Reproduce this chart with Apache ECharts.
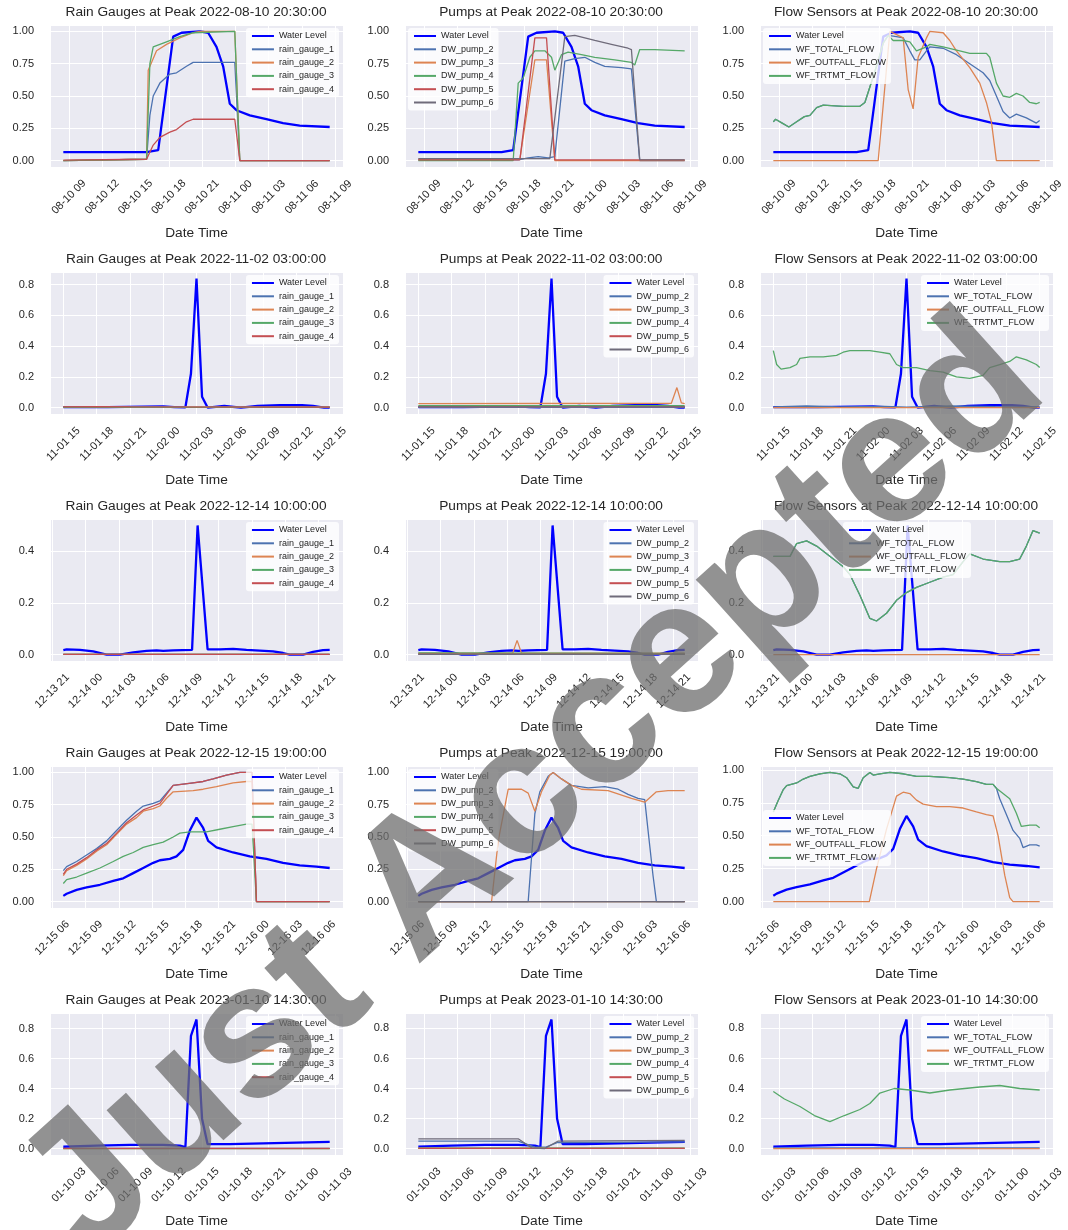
<!DOCTYPE html>
<html>
<head>
<meta charset="utf-8">
<script src="https://cdn.jsdelivr.net/npm/echarts@6/dist/echarts.min.js"></script>
<style>
html, body { margin: 0; background: #fff; }
#chart { width: 1068px; height: 1230px; }
</style>
</head>
<body>
<div id="chart"></div>
<script>
// peak time of each row (the x window is peak -12h .. +12h)
const peakTimes = ['2022-08-10 20:30:00', '2022-11-02 03:00:00', '2022-12-14 10:00:00', '2022-12-15 19:00:00', '2023-01-10 14:30:00'];

const rainNames = ['rain_gauge_1', 'rain_gauge_2', 'rain_gauge_3', 'rain_gauge_4'];
const pumpNames = ['DW_pump_2', 'DW_pump_3', 'DW_pump_4', 'DW_pump_5', 'DW_pump_6'];
const flowNames = ['WF_TOTAL_FLOW', 'WF_OUTFALL_FLOW', 'WF_TRTMT_FLOW'];

// y tick step and decimals per row
const yStep = [0.25, 0.2, 0.2, 0.25, 0.2];
const yDigits = [2, 1, 1, 2, 1];

// every point is [hours from peak, normalised value]
// ---- row 1 : 2022-08-10 20:30
const level1 = [[-12,0.065],[-4.5,0.065],[-3.45,0.08],[-2.1,0.96],[-1.35,0.99],[0.3,1.0],[1.05,0.99],[1.8,0.88],[2.4,0.73],[3.0,0.44],[3.6,0.39],[4.8,0.35],[6.3,0.32],[7.8,0.29],[9.3,0.27],[12,0.26]];
const rain1 = [
  [[-12,0],[-4.5,0.01],[-4.2,0.35],[-3.9,0.5],[-3.3,0.6],[-2.4,0.67],[-1.8,0.68],[-0.9,0.73],[-0.3,0.76],[3.45,0.76],[3.9,0],[12,0]],
  [[-12,0],[-4.5,0.01],[-4.35,0.7],[-3.6,0.85],[-2.7,0.9],[-1.5,0.95],[-0.3,0.99],[0.3,1.0],[3.45,1.0],[3.9,0],[12,0]],
  [[-12,0],[-4.5,0.01],[-4.2,0.75],[-3.9,0.88],[-2.7,0.92],[-1.5,0.96],[-0.3,0.99],[3.45,1.0],[3.9,0],[12,0]],
  [[-12,0.003],[-4.5,0.01],[-3.9,0.12],[-3.3,0.18],[-2.4,0.22],[-1.8,0.24],[-0.9,0.3],[-0.3,0.32],[3.45,0.32],[3.9,0],[12,0]]
];
const pump1 = [
  [[-12,0.005],[-3,0.005],[-2.1,0.02],[-1.2,0.03],[-0.3,0.02],[0.3,0.03],[1.2,0.77],[2.1,0.79],[3.0,0.8],[3.9,0.76],[4.8,0.73],[6.3,0.72],[7.2,0.71],[7.95,0],[12,0]],
  [[-12,0.01],[-2.85,0.01],[-1.5,0.78],[-0.45,0.78],[0.3,0],[12,0]],
  [[-12,0],[-3.45,0],[-3.0,0.6],[-2.55,0.64],[-1.95,0.8],[-1.5,0.85],[-0.6,0.85],[0,0.8],[0.3,0.7],[0.9,0.82],[1.5,0.84],[2.7,0.82],[3.9,0.8],[5.7,0.78],[7.2,0.76],[7.5,0.74],[7.95,0.86],[9.3,0.86],[12,0.85]],
  [[-12,0.005],[-2.85,0.005],[-1.5,0.95],[-0.45,0.95],[0.3,0.005],[12,0.005]],
  [[-12,0.015],[-0.15,0.015],[1.2,0.96],[2.1,0.97],[3.9,0.93],[5.4,0.9],[6.9,0.87],[7.2,0.86],[7.95,0.005],[12,0.005]]
];
const flow1 = [
  [[-12,0.3],[-11.8,0.32],[-11.2,0.29],[-10.6,0.26],[-9.9,0.3],[-9.2,0.34],[-8.7,0.35],[-8.1,0.41],[-7.5,0.43],[-5.7,0.42],[-4.2,0.42],[-3.75,0.45],[-3.3,0.57],[-2.7,0.73],[-2.1,0.91],[-1.65,0.97],[-0.9,0.96],[-0.3,0.95],[0.3,0.85],[0.75,0.78],[1.2,0.78],[1.8,0.85],[2.1,0.88],[3.3,0.87],[4.5,0.82],[5.7,0.75],[6.9,0.68],[7.5,0.62],[8.1,0.5],[8.7,0.38],[9.3,0.33],[9.9,0.36],[10.8,0.33],[11.7,0.29],[12,0.31]],
  [[-12,0],[-2.55,0],[-1.5,1.0],[-0.75,0.97],[-0.3,0.95],[0.15,0.55],[0.6,0.4],[1.05,0.8],[1.8,0.95],[2.1,1.0],[3.3,0.99],[3.9,0.93],[4.5,0.85],[5.7,0.72],[6.6,0.6],[7.2,0.45],[7.65,0.3],[8.1,0],[12,0]],
  [[-12,0.3],[-11.8,0.32],[-11.2,0.29],[-10.6,0.26],[-9.9,0.3],[-9.2,0.34],[-8.7,0.35],[-8.1,0.41],[-7.5,0.43],[-5.7,0.42],[-4.2,0.42],[-3.75,0.45],[-3.3,0.57],[-2.7,0.73],[-2.1,0.91],[-1.65,0.97],[-1.2,0.93],[-0.3,0.93],[0.3,0.92],[0.9,0.85],[1.8,0.88],[2.1,0.9],[3.3,0.88],[4.8,0.85],[5.7,0.83],[7.2,0.83],[7.5,0.8],[8.1,0.6],[8.7,0.5],[9.3,0.49],[9.9,0.52],[10.5,0.5],[11.1,0.45],[11.7,0.44],[12,0.45]]
];

// ---- row 2 : 2022-11-02 03:00
const level2 = [[-12,0.003],[-8,0.003],[-3,0.008],[-2,0.003],[-1,0.002],[-0.5,0.22],[0,0.84],[0.5,0.07],[1,0],[2.5,0.01],[4,0],[5.5,0.01],[7.5,0.015],[9.5,0.015],[10.5,0.01],[11.5,0],[12,0]];
const rain2 = [
  [[-12,0.003],[12,0.003]],
  [[-12,0.002],[12,0.002]],
  [[-12,0.001],[12,0.001]],
  [[-12,0.004],[-9,0.006],[-6,0.004],[12,0.003]]
];
const pump2 = [
  [[-12,0.002],[12,0.002]],
  [[-12,0.025],[10.8,0.028],[11.3,0.13],[11.7,0.03],[12,0.025]],
  [[-12,0.012],[12,0.012]],
  [[-12,0.006],[12,0.006]],
  [[-12,0.004],[12,0.004]]
];
const flow2 = [
  [[-12,0.005],[-9,0.01],[-6,0.005],[-2,0.008],[0,0.003],[4,0.01],[8,0.006],[12,0.004]],
  [[-12,0],[12,0]],
  [[-12,0.37],[-11.7,0.28],[-11.3,0.25],[-10.5,0.26],[-9.9,0.28],[-9.6,0.32],[-8.7,0.33],[-7.5,0.33],[-6.3,0.34],[-5.7,0.36],[-5.1,0.37],[-3.3,0.37],[-2.4,0.36],[-1.5,0.35],[-0.9,0.28],[-0.3,0.26],[0.9,0.26],[2.1,0.24],[3.3,0.23],[4.5,0.2],[5.7,0.19],[6.9,0.21],[7.5,0.26],[8.4,0.28],[9.3,0.3],[9.9,0.33],[10.8,0.31],[11.7,0.28],[12,0.26]]
];

// ---- row 3 : 2022-12-14 10:00
const level3 = [[-12,0.017],[-11.7,0.02],[-10.5,0.018],[-9.3,0.012],[-8.1,0],[-6.9,0],[-5.7,0.008],[-4.5,0.014],[-3.6,0.016],[-3.0,0.014],[-2.1,0.016],[-0.4,0.018],[0.1,0.5],[1.0,0.02],[2.1,0.02],[3.3,0.022],[4.5,0.018],[5.7,0.015],[6.9,0.012],[7.8,0.006],[8.4,0],[9.6,0],[10.5,0.01],[11.4,0.017],[12,0.018]];
const rain3 = [
  [[-12,0.001],[12,0.001]],
  [[-12,0.001],[12,0.001]],
  [[-12,0.001],[12,0.001]],
  [[-12,0.001],[12,0.001]]
];
const pump3 = [
  [[-12,0.002],[12,0.002]],
  [[-12,0.005],[-3.5,0.005],[-3.1,0.055],[-2.7,0.005],[12,0.005]],
  [[-12,0.006],[12,0.004]],
  [[-12,0.002],[12,0.002]],
  [[-12,0.001],[12,0.001]]
];
const flow3 = [
  [[-12,0.38],[-10.5,0.38],[-9.9,0.43],[-9.0,0.44],[-8.1,0.42],[-7.2,0.39],[-6.3,0.36],[-5.7,0.34],[-5.1,0.31],[-4.2,0.23],[-3.3,0.14],[-2.7,0.13],[-1.8,0.16],[-0.9,0.21],[0,0.24],[0.9,0.26],[2.1,0.28],[3.3,0.3],[4.2,0.31],[5.1,0.36],[5.7,0.39],[6.9,0.37],[8.4,0.36],[9.3,0.36],[10.2,0.37],[10.8,0.42],[11.4,0.48],[12,0.47]],
  [[-12,0],[12,0]],
  [[-12,0.38],[-10.5,0.38],[-9.9,0.43],[-9.0,0.44],[-8.1,0.42],[-7.2,0.39],[-6.3,0.36],[-5.7,0.34],[-5.1,0.31],[-4.2,0.23],[-3.3,0.14],[-2.7,0.13],[-1.8,0.16],[-0.9,0.21],[0,0.24],[0.9,0.26],[2.1,0.28],[3.3,0.3],[4.2,0.31],[5.1,0.36],[5.7,0.39],[6.9,0.37],[8.4,0.36],[9.3,0.36],[10.2,0.37],[10.8,0.42],[11.4,0.48],[12,0.47]]
];

// ---- row 4 : 2022-12-15 19:00
const level4 = [[-12,0.044],[-11.7,0.06],[-10.8,0.09],[-9.9,0.11],[-8.7,0.13],[-7.5,0.16],[-6.6,0.18],[-5.7,0.22],[-4.8,0.26],[-3.9,0.3],[-3.3,0.32],[-2.4,0.33],[-1.8,0.35],[-1.2,0.4],[-0.6,0.55],[0,0.65],[0.6,0.57],[1.05,0.47],[1.8,0.42],[3.3,0.38],[4.8,0.35],[6.3,0.33],[7.8,0.3],[9.3,0.28],[10.8,0.27],[12,0.26]];
const rain4 = [
  [[-12,0.24],[-11.7,0.27],[-10.8,0.31],[-9.9,0.36],[-9.0,0.41],[-8.1,0.47],[-7.2,0.55],[-6.3,0.63],[-5.4,0.7],[-4.8,0.74],[-3.9,0.76],[-3.3,0.78],[-2.7,0.84],[-2.1,0.9],[-1.2,0.91],[-0.3,0.92],[0.6,0.93],[1.5,0.95],[2.7,0.98],[3.9,1.0],[5.0,1.0],[5.4,0],[12,0]],
  [[-12,0.2],[-11.7,0.24],[-10.8,0.28],[-9.9,0.33],[-9.0,0.39],[-8.1,0.44],[-7.2,0.52],[-6.3,0.6],[-5.4,0.65],[-4.8,0.7],[-3.9,0.72],[-3.3,0.74],[-2.7,0.8],[-2.1,0.85],[-0.3,0.86],[0.6,0.87],[1.8,0.89],[3.3,0.92],[4.5,0.93],[5.0,0.93],[5.4,0],[12,0]],
  [[-12,0.14],[-11.7,0.17],[-10.8,0.19],[-9.9,0.22],[-8.7,0.26],[-7.5,0.31],[-6.6,0.35],[-5.7,0.38],[-4.8,0.42],[-3.9,0.44],[-3.0,0.46],[-2.1,0.5],[-1.5,0.53],[-0.6,0.54],[0.9,0.54],[2.1,0.56],[3.3,0.58],[4.5,0.6],[5.0,0.6],[5.4,0],[12,0]],
  [[-12,0.21],[-11.7,0.25],[-10.8,0.29],[-9.9,0.34],[-9.0,0.4],[-8.1,0.45],[-7.2,0.53],[-6.3,0.61],[-5.4,0.67],[-4.8,0.71],[-3.9,0.74],[-3.3,0.76],[-2.7,0.83],[-2.1,0.9],[-1.2,0.91],[-0.3,0.92],[0.6,0.93],[1.5,0.95],[2.7,0.98],[3.9,1.0],[5.0,1.0],[5.4,0],[12,0]]
];
const pump4 = [
  [[-12,0],[-2.1,0],[-1.5,0.68],[-1.05,0.85],[-0.3,0.97],[0.15,1.0],[0.9,0.95],[1.8,0.9],[3.3,0.88],[4.8,0.89],[6.0,0.87],[6.9,0.83],[7.8,0.8],[8.4,0.79],[8.7,0.55],[9.15,0.2],[9.45,0],[12,0]],
  [[-12,0],[-5.4,0],[-4.8,0.47],[-3.9,0.87],[-2.7,0.87],[-2.1,0.84],[-1.5,0.7],[-0.9,0.85],[-0.15,0.98],[0.15,1.0],[0.9,0.95],[1.8,0.9],[2.7,0.87],[5.1,0.86],[7.2,0.8],[8.4,0.77],[9.45,0.85],[10.5,0.86],[12,0.86]],
  [[-12,0],[12,0]],
  [[-12,0],[12,0]],
  [[-12,0],[12,0]]
];
const flow4 = [
  [[-12,0.68],[-11.6,0.76],[-11.1,0.85],[-10.8,0.88],[-9.9,0.9],[-9.3,0.93],[-8.7,0.95],[-7.8,0.97],[-6.9,0.98],[-6.0,0.97],[-5.4,0.94],[-4.8,0.87],[-4.35,0.86],[-3.9,0.94],[-3.3,0.98],[-3.0,0.96],[-2.4,0.97],[-1.5,0.98],[-0.3,0.97],[0.9,0.95],[2.1,0.95],[3.9,0.94],[5.1,0.93],[6.3,0.91],[7.2,0.89],[7.8,0.89],[8.1,0.86],[8.4,0.78],[9.0,0.66],[9.6,0.54],[10.2,0.48],[10.5,0.41],[11.1,0.43],[11.7,0.43],[12,0.42]],
  [[-12,0],[-3.35,0],[-2.7,0.25],[-1.8,0.55],[-0.9,0.8],[-0.3,0.83],[0.3,0.82],[0.9,0.77],[1.5,0.74],[2.7,0.72],[3.9,0.72],[5.1,0.71],[6.3,0.68],[7.2,0.66],[7.8,0.65],[8.25,0.5],[8.85,0.2],[9.3,0.03],[9.6,0],[12,0]],
  [[-12,0.68],[-11.6,0.76],[-11.1,0.85],[-10.8,0.88],[-9.9,0.9],[-9.3,0.93],[-8.7,0.95],[-7.8,0.97],[-6.9,0.98],[-6.0,0.97],[-5.4,0.94],[-4.8,0.87],[-4.35,0.86],[-3.9,0.94],[-3.3,0.98],[-3.0,0.96],[-2.4,0.97],[-1.5,0.98],[-0.3,0.97],[0.9,0.95],[2.1,0.95],[3.9,0.94],[5.1,0.93],[6.3,0.91],[7.2,0.89],[7.8,0.89],[8.1,0.86],[8.7,0.82],[9.3,0.78],[9.9,0.67],[10.35,0.57],[11.1,0.58],[11.7,0.58],[12,0.56]]
];

// ---- row 5 : 2023-01-10 14:30
const level5 = [[-12,0.013],[-9,0.02],[-6,0.025],[-3,0.025],[-1.5,0.02],[-1.0,0.01],[-0.5,0.75],[0,0.86],[0.5,0.2],[1.0,0.03],[3,0.03],[6,0.035],[9,0.04],[12,0.045]];
const rain5 = [
  [[-12,0.002],[12,0.002]],
  [[-12,0.001],[12,0.001]],
  [[-12,0.001],[12,0.001]],
  [[-12,0.002],[12,0.002]]
];
const pump5 = [
  [[-12,0.05],[-3,0.05],[-1.5,0.01],[-0.5,0.01],[0.5,0.04],[12,0.045]],
  [[-12,0.002],[12,0.002]],
  [[-12,0.003],[12,0.003]],
  [[-12,0.001],[12,0.001]],
  [[-12,0.065],[-3,0.065],[-1.8,0.005],[-0.6,0],[0.6,0.05],[12,0.055]]
];
const flow5 = [
  [[-12,0.005],[12,0.005]],
  [[-12,0],[12,0]],
  [[-12,0.38],[-11,0.33],[-9.6,0.28],[-8.3,0.22],[-6.9,0.18],[-5.6,0.22],[-4.2,0.26],[-3.3,0.3],[-2.4,0.37],[-1.1,0.4],[0.3,0.39],[2.1,0.37],[3.9,0.39],[6.6,0.41],[8.4,0.42],[10.2,0.4],[12,0.39]]
];

const levels = [level1, level2, level3, level4, level5];
const rainData = [rain1, rain2, rain3, rain4, rain5];
const pumpData = [pump1, pump2, pump3, pump4, pump5];
const flowData = [flow1, flow2, flow3, flow4, flow5];

// ---------------------------------------------------------------
const HOUR = 3600000;
const FONT = '"Liberation Sans", Arial, sans-serif';
const TXT = '#262626';
const colLeft = [50, 405, 760];
const plotW = 293, plotH = 142, rowPitch = 247, firstTop = 25;

const kinds = [
  { title: 'Rain Gauges', names: rainNames, data: rainData, colors: ['#4c72b0', '#dd8452', '#55a868', '#c44e52'] },
  { title: 'Pumps', names: pumpNames, data: pumpData, colors: ['#4c72b0', '#dd8452', '#55a868', '#c44e52', '#6f6b7a'] },
  { title: 'Flow Sensors', names: flowNames, data: flowData, colors: ['#4c72b0', '#dd8452', '#55a868'] }
];

// legend placement per panel: 'r' = top right corner, 'l' = top left, or [dx, dy] from the plot's top-left
const legendPlace = [
  ['r', 'l', 'l'],
  ['r', 'r', 'r'],
  ['r', 'r', [83, 3]],
  ['r', 'l', [3, 44]],
  ['r', 'r', 'r']
];

function toMs(s) {
  const m = s.match(/(\d+)-(\d+)-(\d+) (\d+):(\d+):(\d+)/);
  return Date.UTC(+m[1], +m[2] - 1, +m[3], +m[4], +m[5], +m[6]);
}
const pad = n => (n < 10 ? '0' : '') + n;
const padRange = v => (v.max - v.min) * 0.05;

const option = {
  animation: false,
  backgroundColor: '#ffffff',
  textStyle: { fontFamily: FONT },
  grid: [], xAxis: [], yAxis: [], legend: [], series: [], graphic: []
};

peakTimes.forEach((peak, r) => {
  const peakMs = toMs(peak);
  const step = yStep[r], digits = yDigits[r];
  kinds.forEach((kind, c) => {
    const idx = r * 3 + c;
    const left = colLeft[c], top = firstTop + rowPitch * r;

    option.grid.push({
      left: left, top: top, width: plotW, height: plotH,
      show: true, backgroundColor: '#eaeaf2', borderWidth: 0
    });
    option.xAxis.push({
      type: 'value', gridIndex: idx,
      min: v => v.min - padRange(v), max: v => v.max + padRange(v),
      minInterval: 3 * HOUR, maxInterval: 3 * HOUR,
      axisLine: { show: false }, axisTick: { show: false },
      splitLine: { show: true, lineStyle: { color: '#ffffff', width: 1 } },
      axisLabel: {
        rotate: 45, interval: 0, hideOverlap: false, margin: 30,
        align: 'center', verticalAlign: 'middle',
        fontSize: 11, color: TXT,
        formatter: v => {
          if (v % (3 * HOUR) !== 0) return '';
          const d = new Date(v);
          return pad(d.getUTCMonth() + 1) + '-' + pad(d.getUTCDate()) + ' ' + pad(d.getUTCHours());
        }
      },
      name: 'Date Time', nameLocation: 'middle', nameGap: 59,
      nameTextStyle: { fontSize: 13.7, color: TXT }
    });
    option.yAxis.push({
      type: 'value', gridIndex: idx,
      min: v => v.min - padRange(v), max: v => v.max + padRange(v),
      minInterval: step, maxInterval: step,
      axisLine: { show: false }, axisTick: { show: false },
      splitLine: { show: true, lineStyle: { color: '#ffffff', width: 1 } },
      axisLabel: {
        fontSize: 11, color: TXT, margin: 16,
        formatter: v => Math.abs(v / step - Math.round(v / step)) > 1e-6 ? '' : v.toFixed(digits)
      }
    });

    const toXY = pts => pts.map(p => [peakMs + p[0] * HOUR, p[1]]);
    option.series.push({
      type: 'line', name: 'Water Level', xAxisIndex: idx, yAxisIndex: idx,
      data: toXY(levels[r]), symbol: 'none', z: 2,
      lineStyle: { color: '#0000ff', width: 2.3 }, itemStyle: { color: '#0000ff' }
    });
    kind.data[r].forEach((pts, k) => {
      option.series.push({
        type: 'line', name: kind.names[k], xAxisIndex: idx, yAxisIndex: idx,
        data: toXY(pts), symbol: 'none', z: 3,
        lineStyle: { color: kind.colors[k], width: 1.3 }, itemStyle: { color: kind.colors[k] }
      });
    });

    const place = legendPlace[r][c];
    const leg = {
      orient: 'vertical', selectedMode: false,
      data: ['Water Level'].concat(kind.names),
      itemWidth: 22, itemHeight: 10, itemGap: 3.3,
      // hide the marker drawn in the middle of line icons, keep the line
      itemStyle: { color: 'rgba(0,0,0,0)', borderColor: 'rgba(0,0,0,0)', borderWidth: 0 },
      textStyle: { fontSize: 9, color: TXT, lineHeight: 10 },
      backgroundColor: 'rgba(255,255,255,0.8)', borderRadius: 3, padding: [3, 5, 3, 5],
      top: top + 3
    };
    if (place === 'r') leg.right = 1068 - (left + plotW) + 4;
    else if (place === 'l') leg.left = left + 3;
    else { leg.left = left + place[0]; leg.top = top + place[1]; }
    option.legend.push(leg);

    option.graphic.push({
      type: 'text', x: left + 146, y: top - 13, z: 50,
      style: {
        text: kind.title + ' at Peak ' + peak,
        fontSize: 13.7, fontFamily: FONT, fill: TXT,
        align: 'center', verticalAlign: 'middle'
      }
    });
  });
});

// "Just Accepted" watermark across the figure
option.graphic.push({
  type: 'text', x: 534, y: 790, rotation: 42 * Math.PI / 180, z: 100,
  style: {
    text: 'Just Accepted', fontSize: 190, fontWeight: 'bold', fontFamily: FONT,
    fill: 'rgba(110,110,110,0.75)', align: 'center', verticalAlign: 'middle'
  }
});

const myChart = echarts.init(document.getElementById('chart'));
myChart.setOption(option);
</script>
</body>
</html>
